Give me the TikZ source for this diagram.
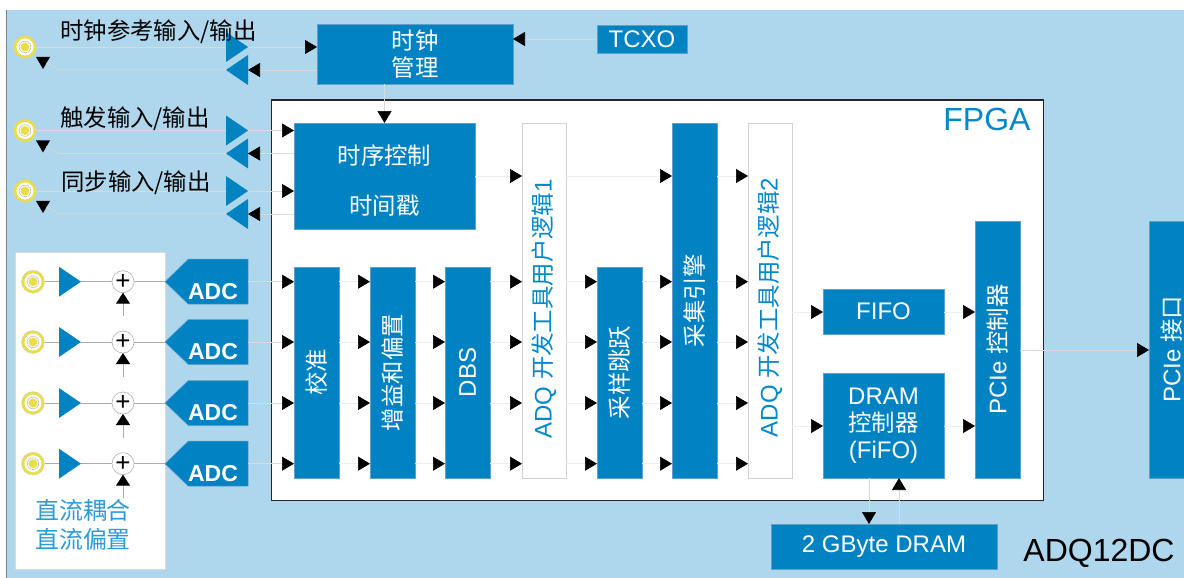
\documentclass[tikz,border=0pt]{standalone}
\usepackage{fontspec}
\setmainfont{Liberation Sans}
\newfontfamily\cjk[Scale=0.975]{Noto Sans CJK SC}
\usetikzlibrary{calc,arrows.meta,shapes.geometric,shapes.symbols}
\definecolor{adqBlue}{RGB}{0,130,195}
\definecolor{adqEdge}{RGB}{95,160,200}
\definecolor{adqSky}{RGB}{174,214,236}
\definecolor{adqText}{RGB}{0,136,204}
\definecolor{adqPale}{RGB}{45,155,218}
\definecolor{adqRing}{RGB}{232,222,70}
\tikzset{
  blk/.style={fill=adqBlue,draw=adqEdge,line width=0.5pt,text=white,inner sep=0pt,outer sep=0pt,align=center,anchor=north west,font=\fontsize{24}{27}\selectfont},
  usr/.style={blk,fill=white,draw=gray!35,text=adqText},
  link/.style={draw=gray!30,line width=0.7pt,-{Triangle[black,length=12pt,width=14pt]}},
  linkin/.style={link,draw=gray!14},
  bare/.style={draw=gray!30,line width=0.7pt},
  amphi/.style={draw=gray!65,line width=1pt},
  ampr/.style={isosceles triangle,isosceles triangle stretches,fill=adqBlue,inner sep=0pt,outer sep=0pt,minimum width=30,minimum height=22,anchor=lower side},
  ampl/.style={ampr,shape border rotate=180},
  dnmark/.style={isosceles triangle,isosceles triangle stretches,fill=black,inner sep=0pt,outer sep=0pt,minimum width=14,minimum height=12,shape border rotate=-90},
  ringnode/.style={circle,fill=adqRing,draw=gray!35,line width=0.3pt,minimum size=23,inner sep=0pt,outer sep=0pt,
    path picture={\fill[white] (path picture bounding box.center) circle (8.5pt);
      \draw[gray!55,line width=0.5pt] (path picture bounding box.center) circle (5.8pt);
      \fill[adqRing] (path picture bounding box.center) circle (4.5pt);}},
  sumnode/.style={circle,fill=white,draw=gray!60,line width=0.6pt,minimum size=22,inner sep=0pt,outer sep=0pt,text height=15pt,text depth=-3pt,font=\fontsize{26}{26}\selectfont},
  adcnode/.style={signal,signal to=west,signal pointer angle=88,fill=adqBlue,draw=adqEdge,line width=0.5pt,minimum width=83,minimum height=45,inner sep=0pt,outer sep=0pt,anchor=east},
  adctxt/.style={text=white,inner sep=0pt,font=\fontsize{23}{27}\selectfont\bfseries},
  lbl/.style={inner sep=0pt,anchor=west,font=\fontsize{24}{27}\selectfont\cjk}
}
\newcommand{\vtxt}[1]{\rotatebox{90}{#1}}
\begin{document}
\begin{tikzpicture}[x=1pt,y=-1pt]
\clip (0,0) rectangle (1184,578);
\fill[adqSky] (7,10) rectangle (1184,578);
\draw[gray,line width=1pt] (6.5,10)--(6.5,578);

\node[draw=black!85,fill=white,line width=1pt,inner sep=0pt,outer sep=0pt,anchor=north west,minimum width=771.5,minimum height=400] (fpga) at (271.5,100) {};
\node[draw=gray!30,fill=white,line width=0.5pt,inner sep=0pt,outer sep=0pt,anchor=north west,minimum width=150,minimum height=317] (dcbox) at (15,252) {};
\node[text=adqText,inner sep=0pt,font=\fontsize{32}{36}\selectfont] (fpgalab) at (987,119) {FPGA};
\node[inner sep=0pt,font=\fontsize{32}{36}\selectfont] (boardlab) at (1099,553) {ADQ12DC};

\node[blk,minimum width=196,minimum height=60] (clk) at (317,24) {\cjk 时钟\\\cjk 管理};
\node[blk,minimum width=90,minimum height=28] (tcxo) at (597,25) {TCXO};
\node[blk,minimum width=181,minimum height=106] (timing) at (294,123) {\rule{0pt}{29pt}\cjk 时序控制\\[23pt]\cjk 时间戳};
\node[blk,minimum width=45,minimum height=211] (cal) at (294,267) {\vtxt{\cjk 校准}};
\node[blk,minimum width=45,minimum height=211] (gain) at (370,267) {\vtxt{\cjk 增益和偏置}};
\node[blk,minimum width=45,minimum height=211] (dbs) at (445,267) {\vtxt{DBS}};
\node[usr,minimum width=44,minimum height=355] (usra) at (522,123) {\vtxt{ADQ {\cjk 开发工具用户逻辑}1\hspace{17pt}}};
\node[blk,minimum width=45,minimum height=211] (skip) at (597,267) {\vtxt{\cjk 采样跳跃}};
\node[blk,minimum width=45,minimum height=355] (eng) at (672,123) {\vtxt{\cjk 采集引擎}};
\node[usr,minimum width=44,minimum height=355] (usrb) at (748,123) {\vtxt{ADQ {\cjk 开发工具用户逻辑}2\hspace{14pt}}};
\node[blk,minimum width=121,minimum height=45] (fifo) at (823,289) {FIFO};
\node[blk,minimum width=121,minimum height=105] (dramc) at (823,373) {DRAM\\\cjk 控制器\\(FiFO)};
\node[blk,minimum width=45,minimum height=257] (pcic) at (975,221) {\vtxt{PCIe {\cjk 控制器}}};
\node[blk,minimum width=45,minimum height=257] (pcii) at (1149,221) {\vtxt{PCIe {\cjk 接口}}};
\node[blk,minimum width=226,minimum height=45] (dram) at (771,524) {2 GByte DRAM};

\coordinate (rowt) at (0,176);
\coordinate (rowa) at (0,281.7);
\coordinate (rowb) at (0,342);
\coordinate (rowc) at (0,403);
\coordinate (rowd) at (0,463.7);
\coordinate (rowf) at (0,312);
\coordinate (rowm) at (0,426);
\coordinate (rowp) at (0,350);
\coordinate (colu) at (869,0);
\coordinate (colv) at (899,0);

\foreach \n/\y in {clk/47,trg/130.5,syn/191}{
  \node[ringnode] (ring\n) at (25,\y) {};
  \node[ampr] (ampr\n) at (226,\y) {};
  \node[ampl] (ampl\n) at (248,\y+23) {};
  \node[dnmark] (dn\n) at (43,\y+14) {};
  \coordinate (bend\n) at (59,\y+23);
  \draw[bare] (ring\n.east)--(ampr\n.lower side);
  \draw[bare] (ampl\n.apex)--(bend\n)--(dn\n);
}
\node[lbl] (lblclk) at (60,32) {时钟参考输入/输出};
\node[lbl] (lbltrg) at (60,119) {触发输入/输出};
\node[lbl] (lblsyn) at (61,183) {同步输入/输出};

\draw[link] (amprclk.apex)--(clk.west |- amprclk.apex);
\draw[link] (clk.west |- amplclk.lower side)--(amplclk.lower side);
\draw[link] (tcxo.west)--(clk.east |- tcxo.west);
\draw[link] (clk.south -| timing.north)--(timing.north);
\foreach \n in {trg,syn}{
  \draw[link] (amprtrg.apex |- ampr\n.apex)--(timing.west |- ampr\n.apex);
  \draw[link] (timing.west |- ampl\n.lower side)--(ampl\n.lower side);
}

\foreach \n/\r in {a/rowa,b/rowb,c/rowc,d/rowd}{
  \node[ringnode] (ring\n) at (33 ,0 |- \r) {};
  \node[ampr] (amp\n) at (59,0 |- \r) {};
  \node[sumnode] (sum\n) at (123,0 |- \r) {+};
  \node[adcnode] (adc\n) at (248,0 |- \r) {};
  \node[adctxt] (adclab\n) at ($(adc\n.east)+(-35,9.5)$) {ADC};
  \coordinate (ofs\n) at ($(sum\n)+(0,34.5)$);
  \draw[amphi] (ring\n)--(amp\n.lower side);
  \draw[amphi] (amp\n.apex)--(sum\n);
  \draw[amphi] (sum\n)--(adc\n.west);
  \draw[amphi,-{Triangle[black,length=11pt,width=14pt]}] (ofs\n)--(sum\n);
  \draw[link] (adc\n.east)--(cal.west |- \r);
  \foreach \p/\q in {cal/gain,gain/dbs,dbs/usra,usra/skip,skip/eng,eng/usrb}
    \draw[linkin] (\p.east |- \r)--(\q.west |- \r);
}
\draw[linkin] (timing.east |- rowt)--(usra.west |- rowt);
\draw[linkin] (usra.east |- rowt)--(eng.west |- rowt);
\draw[linkin] (eng.east |- rowt)--(usrb.west |- rowt);
\draw[linkin] (usrb.east |- rowf)--(fifo.west |- rowf);
\draw[linkin] (usrb.east |- rowm)--(dramc.west |- rowm);
\draw[linkin] (fifo.east |- rowf)--(pcic.west |- rowf);
\draw[linkin] (dramc.east |- rowm)--(pcic.west |- rowm);
\draw[link] (pcic.east |- rowp)--(pcii.west |- rowp);
\draw[link] (colu |- dramc.south)--(colu |- dram.north);
\draw[link] (colv |- dram.north)--(colv |- dramc.south);

\node[text=adqPale,inner sep=0pt,align=center,font=\fontsize{24.5}{29}\selectfont\cjk] (dclab) at (83,525) {直流耦合\\直流偏置};
\end{tikzpicture}
\end{document}
